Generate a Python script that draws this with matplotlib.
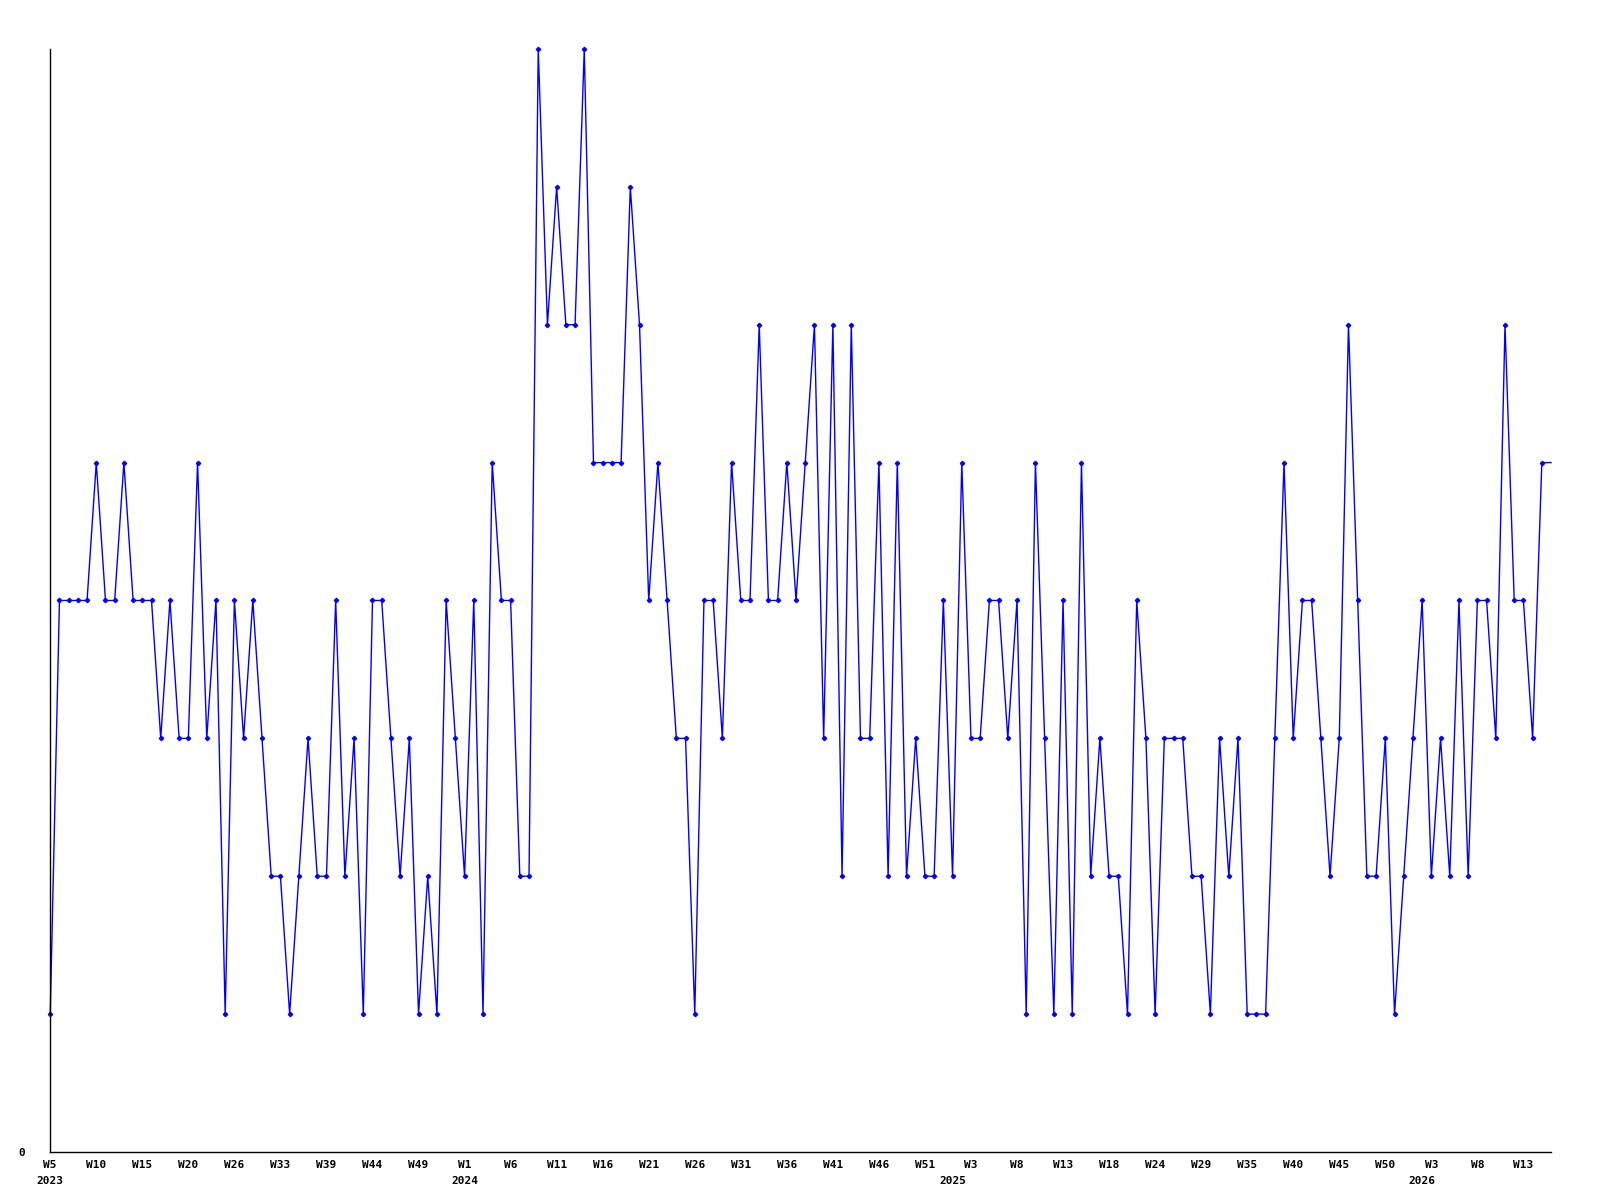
import matplotlib
matplotlib.use("Agg")
import matplotlib.pyplot as plt
import numpy as np

# weekly values (one per data point, last one is the current partial week)
values = [1, 4, 4, 4, 4, 5, 4, 4, 5, 4,
          4, 4, 3, 4, 3, 3, 5, 3, 4, 1,
          4, 3, 4, 3, 2, 2, 1, 2, 3, 2,
          2, 4, 2, 3, 1, 4, 4, 3, 2, 3,
          1, 2, 1, 4, 3, 2, 4, 1, 5, 4,
          4, 2, 2, 8, 6, 7, 6, 6, 8, 5,
          5, 5, 5, 7, 6, 4, 5, 4, 3, 3,
          1, 4, 4, 3, 5, 4, 4, 6, 4, 4,
          5, 4, 5, 6, 3, 6, 2, 6, 3, 3,
          5, 2, 5, 2, 3, 2, 2, 4, 2, 5,
          3, 3, 4, 4, 3, 4, 1, 5, 3, 1,
          4, 1, 5, 2, 3, 2, 2, 1, 4, 3,
          1, 3, 3, 3, 2, 2, 1, 3, 2, 3,
          1, 1, 1, 3, 5, 3, 4, 4, 3, 2,
          3, 6, 4, 2, 2, 3, 1, 2, 3, 4,
          2, 3, 2, 4, 2, 4, 4, 3, 6, 4,
          4, 3, 5, 5]

week_labels = ["W5", "W10", "W15", "W20", "W26", "W33", "W39", "W44", "W49",
               "W1", "W6", "W11", "W16", "W21", "W26", "W31", "W36", "W41",
               "W46", "W51", "W3", "W8", "W13", "W18", "W24", "W29", "W35",
               "W40", "W45", "W50", "W3", "W8", "W13"]
years = ["2023", "2024", "2025", "2026"]
year_first_point = [0, 45, 98, 149]

x = np.arange(len(values))
n_marked = len(values) - 1

fig = plt.figure(figsize=(16, 12), dpi=100)
ax = fig.add_axes([0.0314, 0.04, 0.938, 0.9192])

ax.plot(x, values, color="#0000ff", lw=1.0, marker="D", markersize=2.2,
        markevery=list(range(n_marked)), clip_on=False)

ax.set_xlim(0, len(values) - 1)
ax.set_ylim(0, 8)

font = dict(family="DejaVu Sans Mono", weight="bold", size=8)

ax.set_xticks(x[::5][:len(week_labels)])
ax.set_xticklabels(week_labels, **font)
ax.set_yticks([0])
ax.set_yticklabels(["0"], **font)
ax.tick_params(axis="both", length=0)
ax.tick_params(axis="x", pad=5.5)
ax.tick_params(axis="y", pad=18)

for yr, pos in zip(years, year_first_point):
    ax.annotate(yr, xy=(pos, 0), xycoords=("data", "axes fraction"),
                xytext=(0, -17), textcoords="offset points",
                ha="center", va="top", annotation_clip=False, **font)

for side in ["top", "right"]:
    ax.spines[side].set_visible(False)
for side in ["left", "bottom"]:
    ax.spines[side].set_color("black")
    ax.spines[side].set_linewidth(1.0)

fig.savefig("out.png", dpi=100)
